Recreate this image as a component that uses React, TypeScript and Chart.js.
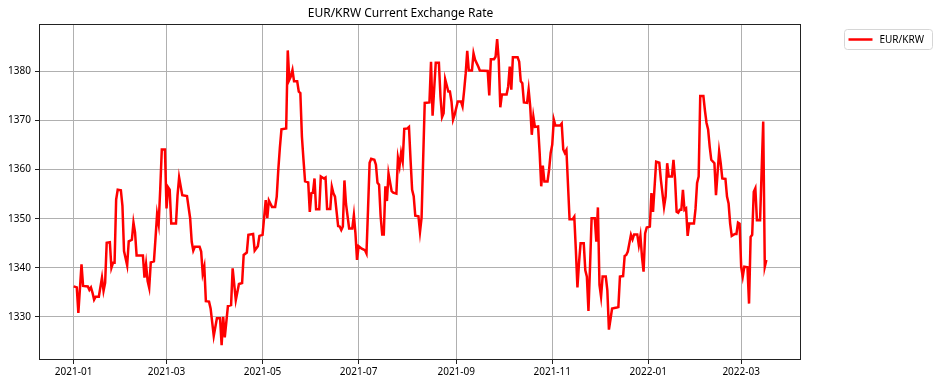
import React, { useEffect, useRef } from "react";
import { Chart, registerables } from "chart.js";

Chart.register(...registerables);

const chartTitle = "EUR/KRW Current Exchange Rate";
const seriesLabel = "EUR/KRW";

// days since 2021-01-01
const dayIndex = [
  0, 2, 3, 5, 6, 9, 10, 11, 12, 13,
  14, 16, 18, 19, 20, 21, 23, 24, 25, 26,
  27, 28, 30, 31, 32, 34, 35, 37, 38, 39,
  40, 44, 45, 46, 47, 48, 49, 51, 52, 53,
  54, 55, 56, 58, 59, 60, 61, 62, 65, 66,
  67, 69, 72, 74, 75, 76, 77, 80, 81, 82,
  83, 84, 86, 87, 89, 91, 93, 94, 95, 96,
  98, 100, 101, 103, 105, 107, 108, 110, 111, 114,
  115, 117, 118, 120, 122, 123, 124, 126, 128, 129,
  130, 131, 132, 135, 136, 137, 138, 139, 140, 142,
  143, 144, 145, 146, 147, 149, 150, 151, 152, 153,
  154, 156, 157, 159, 160, 161, 163, 164, 165, 166,
  168, 169, 170, 171, 172, 173, 175, 177, 178, 179,
  180, 181, 183, 185, 186, 187, 188, 189, 191, 192,
  193, 194, 195, 196, 197, 198, 199, 200, 202, 203,
  205, 206, 207, 208, 209, 210, 212, 213, 214, 215,
  216, 217, 219, 220, 221, 222, 223, 226, 227, 228,
  230, 232, 233, 234, 235, 236, 238, 239, 240, 241,
  242, 244, 246, 247, 248, 249, 250, 251, 253, 254,
  255, 257, 258, 263, 264, 265, 267, 268, 269, 270,
  271, 272, 275, 276, 277, 278, 279, 282, 283, 284,
  285, 286, 288, 289, 290, 291, 292, 293, 295, 296,
  297, 298, 299, 301, 302, 303, 304, 305, 306, 309,
  310, 311, 312, 313, 315, 317, 318, 319, 320, 321,
  322, 324, 325, 326, 327, 328, 329, 331, 332, 333,
  334, 335, 336, 338, 339, 340, 341, 342, 345, 346,
  347, 349, 350, 351, 352, 354, 355, 356, 358, 359,
  360, 361, 362, 363, 364, 366, 367, 368, 370, 372,
  373, 375, 376, 377, 378, 380, 381, 382, 383, 384,
  385, 386, 387, 388, 389, 390, 391, 394, 395, 396,
  397, 398, 400, 401, 402, 403, 404, 405, 407, 408,
  409, 410, 411, 412, 414, 415, 416, 417, 418, 420,
  421, 422, 423, 424, 425, 426, 428, 429, 430, 431,
  432, 433, 434, 436, 438, 439, 440,
];

const eurKrw = [
  1336.2, 1336.0, 1330.8, 1340.7, 1336.3, 1336.2, 1335.5, 1336.0, 1334.9, 1333.5,
  1334.1, 1334.1, 1338.0, 1335.3, 1336.9, 1345.1, 1345.2, 1340.0, 1341.0, 1341.0,
  1353.9, 1355.9, 1355.8, 1352.6, 1343.4, 1340.5, 1345.4, 1345.7, 1349.2, 1347.2,
  1342.5, 1342.5, 1338.0, 1340.7, 1337.3, 1335.9, 1341.1, 1341.3, 1346.0, 1350.9,
  1348.9, 1356.0, 1364.1, 1364.1, 1352.1, 1356.4, 1355.9, 1349.0, 1349.0, 1354.8,
  1358.4, 1354.8, 1354.6, 1350.1, 1345.3, 1343.5, 1344.3, 1344.3, 1343.3, 1338.8,
  1340.2, 1333.2, 1333.1, 1331.7, 1326.1, 1329.7, 1329.7, 1324.2, 1330.0, 1325.8,
  1332.2, 1332.4, 1339.9, 1333.4, 1336.7, 1336.9, 1342.6, 1343.1, 1346.7, 1346.9,
  1343.5, 1344.4, 1346.5, 1346.7, 1353.8, 1350.1, 1353.7, 1352.4, 1352.4, 1354.5,
  1360.0, 1364.5, 1368.2, 1368.4, 1384.3, 1378.3, 1379.0, 1380.3, 1378.0, 1378.0,
  1375.9, 1375.6, 1366.7, 1362.0, 1357.6, 1357.4, 1351.4, 1355.2, 1355.3, 1358.2,
  1351.9, 1351.9, 1358.6, 1358.2, 1358.4, 1352.0, 1352.0, 1356.5, 1355.2, 1354.5,
  1348.5, 1348.4, 1347.7, 1348.4, 1357.8, 1353.0, 1348.0, 1348.0, 1350.7, 1347.0,
  1341.6, 1344.4, 1343.9, 1343.6, 1342.9, 1352.0, 1361.4, 1362.2, 1362.0, 1361.0,
  1357.3, 1356.9, 1350.5, 1346.8, 1346.8, 1356.6, 1353.6, 1359.2, 1355.6, 1355.3,
  1355.1, 1362.4, 1360.7, 1363.4, 1361.7, 1368.3, 1368.4, 1368.7, 1362.0, 1355.9,
  1354.6, 1350.6, 1350.5, 1347.3, 1350.2, 1362.0, 1373.6, 1373.7, 1382.0, 1371.0,
  1381.8, 1381.8, 1374.9, 1370.7, 1371.5, 1378.4, 1375.9, 1375.9, 1373.9, 1370.2,
  1371.2, 1373.9, 1373.9, 1372.9, 1376.0, 1379.5, 1384.2, 1380.2, 1380.2, 1383.7,
  1382.4, 1381.0, 1380.2, 1380.1, 1375.1, 1382.5, 1382.5, 1383.0, 1386.6, 1382.4,
  1372.7, 1375.3, 1375.3, 1376.9, 1381.0, 1376.3, 1382.9, 1382.9, 1382.0, 1378.0,
  1377.6, 1373.7, 1373.6, 1376.3, 1372.9, 1367.1, 1370.8, 1368.7, 1368.8, 1363.4,
  1356.6, 1360.8, 1357.6, 1357.6, 1360.0, 1363.4, 1365.1, 1370.2, 1369.0, 1369.0,
  1369.4, 1364.1, 1363.4, 1364.0, 1349.9, 1349.9, 1350.4, 1343.6, 1336.0, 1341.0,
  1345.0, 1345.0, 1339.5, 1338.2, 1331.2, 1340.2, 1350.1, 1350.1, 1345.3, 1352.3,
  1336.5, 1334.1, 1338.2, 1338.2, 1335.4, 1327.4, 1329.5, 1331.7, 1331.9, 1332.0,
  1338.2, 1338.3, 1342.4, 1342.6, 1343.3, 1346.7, 1345.8, 1346.8, 1346.8, 1344.6,
  1346.5, 1342.2, 1339.2, 1347.0, 1348.2, 1348.4, 1355.2, 1351.4, 1361.6, 1361.4,
  1357.9, 1352.4, 1354.5, 1361.3, 1358.6, 1358.6, 1362.0, 1358.0, 1351.4, 1351.2,
  1351.8, 1351.8, 1355.9, 1351.8, 1352.1, 1346.5, 1349.0, 1349.0, 1352.0, 1357.3,
  1358.6, 1375.0, 1375.0, 1372.0, 1369.5, 1368.2, 1364.7, 1362.0, 1361.3, 1354.8,
  1359.3, 1363.7, 1361.3, 1358.2, 1358.1, 1354.5, 1353.1, 1349.0, 1346.5, 1346.9,
  1346.9, 1349.2, 1349.0, 1340.2, 1338.2, 1340.2, 1340.1, 1332.7, 1346.3, 1346.7,
  1355.5, 1356.2, 1349.7, 1349.7, 1369.8, 1340.2, 1341.6,
];

// x tick positions (days since 2021-01-01) and their labels
const xTickDays = [0, 59, 120, 181, 243, 304, 365, 424];
const xTickLabels = ["2021-01", "2021-03", "2021-05", "2021-07", "2021-09", "2021-11", "2022-01", "2022-03"];
const yTickValues = [1330, 1340, 1350, 1360, 1370, 1380];

const FONT = '"Noto Sans", "DejaVu Sans", sans-serif';
const LINE_COLOR = "#ff0000";

export default function App() {
  const canvasRef = useRef<HTMLCanvasElement | null>(null);

  useEffect(() => {
    document.body.style.margin = "0";
    const canvas = canvasRef.current;
    if (!canvas) return;

    const points = dayIndex.map((d, i) => ({ x: d, y: eurKrw[i] }));

    const decorPlugin = {
      id: "decor",
      afterDraw(chart: any) {
        const { ctx, chartArea: a } = chart;
        ctx.save();
        // axes frame
        const l = Math.round(a.left) + 0.5;
        const t = Math.round(a.top) + 0.5;
        const rr = Math.round(a.right) - 0.5;
        const b = Math.round(a.bottom) - 0.5;
        ctx.strokeStyle = "#222";
        ctx.lineWidth = 1;
        ctx.strokeRect(l, t, rr - l, b - t);
        // legend
        const lx = a.right + 43.5;
        const ly = 29.5;
        const lw = 88;
        const lh = 20;
        const r = 3;
        ctx.beginPath();
        ctx.moveTo(lx + r, ly);
        ctx.lineTo(lx + lw - r, ly);
        ctx.quadraticCurveTo(lx + lw, ly, lx + lw, ly + r);
        ctx.lineTo(lx + lw, ly + lh - r);
        ctx.quadraticCurveTo(lx + lw, ly + lh, lx + lw - r, ly + lh);
        ctx.lineTo(lx + r, ly + lh);
        ctx.quadraticCurveTo(lx, ly + lh, lx, ly + lh - r);
        ctx.lineTo(lx, ly + r);
        ctx.quadraticCurveTo(lx, ly, lx + r, ly);
        ctx.closePath();
        ctx.fillStyle = "rgba(255,255,255,0.8)";
        ctx.fill();
        ctx.strokeStyle = "#d6d6d6";
        ctx.stroke();
        ctx.beginPath();
        ctx.strokeStyle = LINE_COLOR;
        ctx.lineWidth = 2.5;
        ctx.moveTo(lx + 4, ly + lh / 2);
        ctx.lineTo(lx + 28, ly + lh / 2);
        ctx.stroke();
        ctx.fillStyle = "#000";
        ctx.font = `10px ${FONT}`;
        ctx.textAlign = "left";
        ctx.textBaseline = "middle";
        ctx.fillText(seriesLabel, lx + 35, ly + lh / 2 + 0.5);
        ctx.restore();
      },
    };

    const chart = new Chart(canvas, {
      type: "line",
      data: {
        datasets: [
          {
            label: seriesLabel,
            data: points,
            borderColor: LINE_COLOR,
            backgroundColor: LINE_COLOR,
            borderWidth: 2.5,
            pointRadius: 0,
            tension: 0,
            fill: false,
          },
        ],
      },
      options: {
        responsive: false,
        animation: false,
        events: [],
        layout: { padding: { left: 0, top: 0, right: 138, bottom: 0 } },
        plugins: {
          legend: { display: false },
          tooltip: { enabled: false },
          title: {
            display: true,
            text: chartTitle,
            color: "#000",
            font: { family: FONT, size: 12, weight: "normal" },
            padding: { top: 6, bottom: 4 },
          },
        },
        scales: {
          x: {
            type: "linear",
            min: -22,
            max: 462,
            afterBuildTicks: (scale: any) => {
              scale.ticks = xTickDays.map((v) => ({ value: v }));
            },
            afterFit: (scale: any) => {
              scale.height = 26;
            },
            ticks: {
              autoSkip: false,
              maxRotation: 0,
              color: "#000",
              padding: 2,
              font: { family: FONT, size: 10 },
              callback: (value: any) => {
                const i = xTickDays.indexOf(Number(value));
                return i >= 0 ? xTickLabels[i] : "";
              },
            },
            grid: {
              color: "#b0b0b0",
              lineWidth: 1,
              tickLength: 4,
              tickColor: "#222",
              drawTicks: true,
            },
            border: { display: false },
          },
          y: {
            type: "linear",
            min: 1321.2,
            max: 1389.6,
            afterBuildTicks: (scale: any) => {
              scale.ticks = yTickValues.map((v) => ({ value: v }));
            },
            afterFit: (scale: any) => {
              scale.width = 39;
            },
            ticks: {
              color: "#000",
              padding: 4,
              font: { family: FONT, size: 10 },
              callback: (value: any) => String(Math.round(Number(value))),
            },
            grid: {
              color: "#b0b0b0",
              lineWidth: 1,
              tickLength: 4,
              tickColor: "#222",
              drawTicks: true,
            },
            border: { display: false },
          },
        },
      },
      plugins: [decorPlugin],
    } as any);

    return () => {
      chart.destroy();
    };
  }, []);

  return (
    <div style={{ position: "absolute", left: 0, top: 0, width: 939, height: 386, background: "#fff" }}>
      <canvas ref={canvasRef} width={939} height={386} style={{ display: "block" }} />
    </div>
  );
}
